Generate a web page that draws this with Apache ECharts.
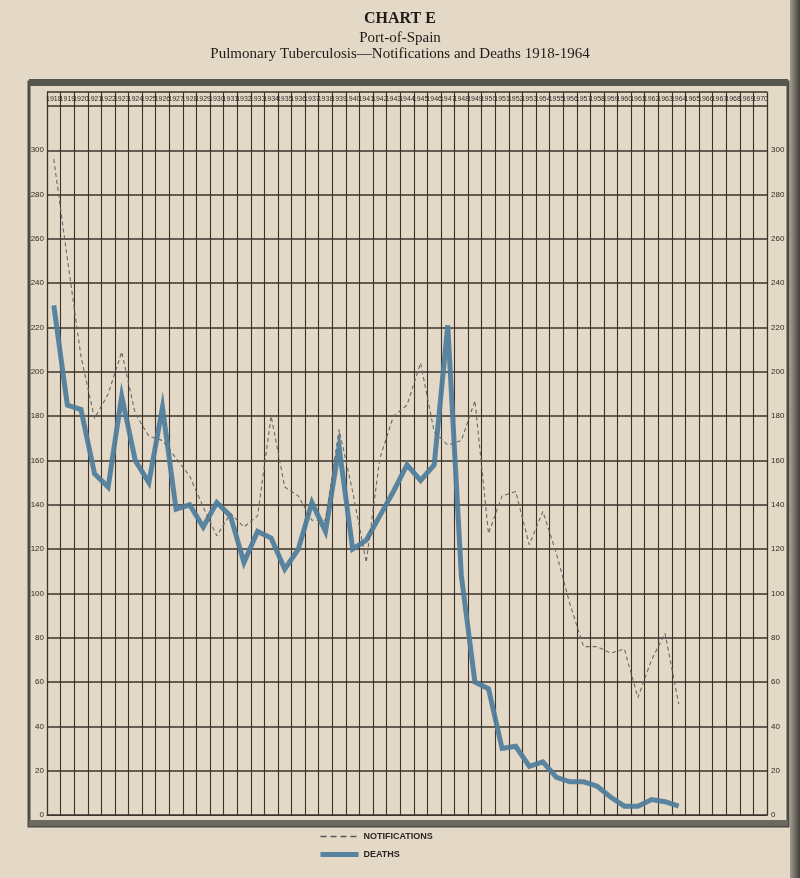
<!DOCTYPE html>
<html><head><meta charset="utf-8">
<script src="https://cdn.jsdelivr.net/npm/echarts@6/dist/echarts.min.js"></script>
<style>html,body{margin:0;padding:0;background:#e4d9c6;}#c{width:800px;height:878px;}</style>
</head><body><div id="c"></div>
<script>
const years = ['1918','1919','1920','1921','1922','1923','1924','1925','1926','1927',
  '1928','1929','1930','1931','1932','1933','1934','1935','1936','1937',
  '1938','1939','1940','1941','1942','1943','1944','1945','1946','1947',
  '1948','1949','1950','1951','1952','1953','1954','1955','1956','1957',
  '1958','1959','1960','1961','1962','1963','1964','1965','1966','1967',
  '1968','1969','1970'];
const notifications = [296,251,207,179,190,209,181,171,169,161,
  153,139,126,136,130,135,180,148,144,133,
  133,174,146,114,161,180,185,204,173,167,
  169,187,127,144,146,122,137,118,95,76,
  76,73,75,53,70,82,50];
const deaths = [230,185,183,154,148,189,160,150,184,138,
  140,130,141,135,114,128,125,111,120,141,
  128,166,120,124,135,146,158,151,158,221,
  108,60,57,30,31,22,24,17,15,15,
  13,8,4,4,7,6,4];
// y scale: 0..320 plotted, plus a header band above 320 (same px/unit)
const yMin = 0, yStep = 20, yLabelMax = 300, yMax = 326.3;

const ink = '#3b332b';
const chart = echarts.init(document.getElementById('c'), null, {renderer:'canvas'});
const yLabel = v => (v > yLabelMax ? '' : String(v));
chart.setOption({
  backgroundColor: '#e4d9c6',
  animation: false,
  title: {
    text: 'CHART E',
    subtext: 'Port-of-Spain\nPulmonary Tuberculosis\u2014Notifications and Deaths 1918-1964',
    left: 'center', top: 6, itemGap: 3,
    textStyle: {fontFamily: 'Liberation Serif', fontSize: 16, fontWeight: 'bold', color: '#1e1b18'},
    subtextStyle: {fontFamily: 'Liberation Serif', fontSize: 15, lineHeight: 16, color: '#1e1b18', align: 'center'}
  },
  legend: {
    orient: 'vertical', left: 313, top: 827, itemWidth: 38, itemHeight: 8, itemGap: 9,
    itemStyle: {opacity: 0},
    textStyle: {fontFamily: 'Liberation Sans', fontSize: 9, fontWeight: 'bold', color: '#2a2622'},
    data: [
      {name: 'NOTIFICATIONS', lineStyle: {width: 1.5, type: [6, 4], color: '#555755'}},
      {name: 'DEATHS', lineStyle: {width: 5, color: '#4d7d9c'}}
    ]
  },
  grid: {left: 47, right: 33, top: 92, bottom: 63},
  xAxis: {
    type: 'category', data: years, position: 'top', boundaryGap: true,
    axisLine: {show: true, lineStyle: {color: ink, width: 1.2}},
    axisTick: {show: false},
    axisLabel: {inside: true, interval: 0, margin: 4, fontSize: 7, fontFamily: 'Liberation Sans Narrow, Liberation Sans', color: '#2e2a26'},
    splitLine: {show: true, interval: 0, lineStyle: {color: ink, width: 1.1}}
  },
  yAxis: [{
    type: 'value', min: yMin, max: yMax, interval: yStep, position: 'left',
    axisLine: {show: true, lineStyle: {color: ink, width: 1.2}},
    axisTick: {show: false},
    axisLabel: {margin: 3, fontSize: 8, fontFamily: 'Liberation Sans', color: '#2e2a26', formatter: yLabel},
    splitLine: {show: true, lineStyle: {color: ink, width: 1.6}}
  }, {
    type: 'value', min: yMin, max: yMax, interval: yStep, position: 'right',
    axisLine: {show: true, lineStyle: {color: ink, width: 1.2}},
    axisTick: {show: false},
    axisLabel: {margin: 4, fontSize: 8, fontFamily: 'Liberation Sans', color: '#2e2a26', formatter: yLabel},
    splitLine: {show: false}
  }],
  series: [{
    name: 'NOTIFICATIONS', type: 'line', data: notifications, symbol: 'none',
    lineStyle: {color: '#666a6b', width: 1.1, type: [4, 3]}, itemStyle: {color: '#666a6b'}, z: 3
  }, {
    name: 'DEATHS', type: 'line', data: deaths, symbol: 'none',
    lineStyle: {color: '#4d7d9c', width: 5, opacity: 0.92, join: 'miter'}, itemStyle: {color: '#4d7d9c'}, z: 2
  }],
  graphic: [
    {type: 'rect', shape: {x: 29, y: 82, width: 759, height: 744}, style: {fill: 'none', stroke: '#4a4b45', lineWidth: 3}, z: 10},
    {type: 'rect', shape: {x: 29, y: 79, width: 759, height: 7}, style: {fill: '#55574f'}, z: 10},
    {type: 'rect', shape: {x: 29, y: 820, width: 759, height: 6}, style: {fill: '#6a6a62'}, z: 10},
    {type: 'rect', shape: {x: 790, y: 0, width: 10, height: 878},
      style: {fill: new echarts.graphic.LinearGradient(0, 0, 1, 0, [{offset: 0, color: '#a39b8c'}, {offset: 1, color: '#3f3e3a'}])}, z: 10}
  ]
});
</script></body></html>
